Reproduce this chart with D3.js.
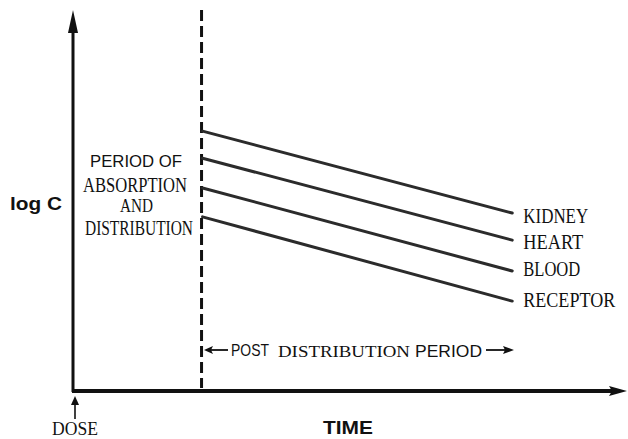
<!DOCTYPE html>
<html>
<head>
<meta charset="utf-8">
<script src="https://cdn.jsdelivr.net/npm/d3@7"></script>
<style>
  html, body { margin: 0; padding: 0; background: #fff; }
  svg { display: block; }
  .serif { font-family: "Liberation Serif", "Times New Roman", serif; fill: #111; }
  .sans { font-family: "Liberation Sans", Arial, sans-serif; fill: #111; }
</style>
</head>
<body>
<svg id="chart" width="628" height="439"></svg>
<script>
// Tissue curves: log concentration after the distribution phase
const tissues = ["KIDNEY", "HEART", "BLOOD", "RECEPTOR"];
const logCStart = [6.82, 6.11, 5.33, 4.57];   // at end of distribution
const logCEnd   = [4.67, 3.96, 3.15, 2.36];   // at last observation
const distributionEnd = 2.35;                  // time when distribution is complete
const observationEnd  = 8.03;                  // last time drawn
const timeMax = 10;
const logCMax = 10;

const svg = d3.select("#chart");
const ink = "#111";

const x = d3.scaleLinear().domain([0, timeMax]).range([73, 620]);
const y = d3.scaleLinear().domain([0, logCMax]).range([391, 10]);

// ---- axes as plain arrows ----
// y axis (log C)
svg.append("line")
  .attr("x1", x(0)).attr("x2", x(0))
  .attr("y1", y(0) + 1).attr("y2", y(logCMax) + 18)
  .attr("stroke", ink).attr("stroke-width", 3);
svg.append("path")
  .attr("d", `M${x(0)},${y(logCMax)} L${x(0) - 5},${y(logCMax) + 23} L${x(0) + 5},${y(logCMax) + 23} Z`)
  .attr("fill", ink);

// x axis (time)
svg.append("line")
  .attr("x1", x(0) - 1).attr("x2", x(timeMax) - 5)
  .attr("y1", y(0)).attr("y2", y(0))
  .attr("stroke", ink).attr("stroke-width", 4);
svg.append("path")
  .attr("d", `M${x(timeMax) + 7},${y(0)} L${x(timeMax) - 11},${y(0) - 5} L${x(timeMax) - 8},${y(0)} L${x(timeMax) - 11},${y(0) + 5} Z`)
  .attr("fill", ink);

// end of distribution: dashed vertical
svg.append("line")
  .attr("x1", x(distributionEnd)).attr("x2", x(distributionEnd))
  .attr("y1", y(logCMax)).attr("y2", y(0) - 3)
  .attr("stroke", ink).attr("stroke-width", 3)
  .attr("stroke-dasharray", "11,5");

// ---- tissue lines ----
const rows = tissues.map((name, i) => ({ name, a: logCStart[i], b: logCEnd[i] }));
const labelWidth = [65, 60, 57, 92];
const labelDrop = [10, 9, 5, 6];

svg.selectAll("line.tissue")
  .data(rows)
  .join("line")
  .attr("class", "tissue")
  .attr("x1", x(distributionEnd) + 1)
  .attr("y1", d => y(d.a))
  .attr("x2", x(observationEnd))
  .attr("y2", d => y(d.b))
  .attr("stroke", "#2b2b2b")
  .attr("stroke-width", 3)
  .attr("stroke-linecap", "round");

svg.selectAll("text.tissue")
  .data(rows)
  .join("text")
  .attr("class", "tissue serif")
  .attr("x", x(observationEnd) + 11)
  .attr("y", (d, i) => y(d.b) + labelDrop[i])
  .attr("font-size", 20)
  .attr("textLength", (d, i) => labelWidth[i])
  .attr("lengthAdjust", "spacingAndGlyphs")
  .text(d => d.name);

// ---- annotations ----
function label(txt, cls, px, py, size, len, weight) {
  const t = svg.append("text")
    .attr("class", cls)
    .attr("x", px).attr("y", py)
    .attr("font-size", size)
    .text(txt);
  if (len) t.attr("textLength", len).attr("lengthAdjust", "spacingAndGlyphs");
  if (weight) t.attr("font-weight", weight);
  return t;
}

label("log C", "sans", 10, 210, 18, 52, "bold");
label("PERIOD OF", "sans", 90, 167, 17, 92);
label("ABSORPTION", "serif", 83, 192, 21, 104);
label("AND", "serif", 120, 212, 18, 33);
label("DISTRIBUTION", "serif", 85, 235, 20, 108);

// post-distribution period with arrows
const py = 350;
svg.append("line").attr("x1", 210).attr("x2", 228).attr("y1", py).attr("y2", py)
  .attr("stroke", ink).attr("stroke-width", 1.8);
svg.append("path").attr("d", `M204,${py} L213,${py - 4} L211,${py} L213,${py + 4} Z`).attr("fill", ink);
label("POST", "sans", 231, 356, 16.5, 38);
label("DISTRIBUTION", "serif", 278, 357, 17, 132);
label("PERIOD", "sans", 415, 357, 16.5, 67);
svg.append("line").attr("x1", 486).attr("x2", 506).attr("y1", py).attr("y2", py)
  .attr("stroke", ink).attr("stroke-width", 1.8);
svg.append("path").attr("d", `M514,${py} L503,${py - 4} L505,${py} L503,${py + 4} Z`).attr("fill", ink);

// dose marker under the origin
svg.append("line").attr("x1", x(0) + 2).attr("x2", x(0) + 2).attr("y1", 402).attr("y2", 419)
  .attr("stroke", ink).attr("stroke-width", 1.6);
svg.append("path").attr("d", `M${x(0) + 2},396 L${x(0) - 2},405 L${x(0) + 6},405 Z`).attr("fill", ink);
label("DOSE", "serif", 52, 435, 19, 46);

label("TIME", "sans", 323, 434, 18, 50, "bold");
</script>
</body>
</html>
